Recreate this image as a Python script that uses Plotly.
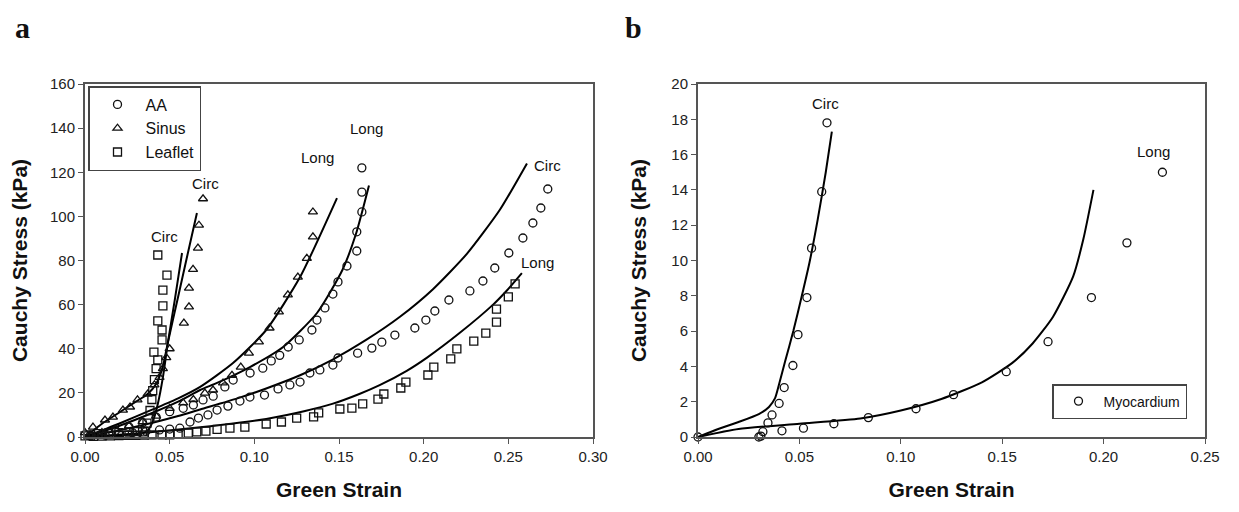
import plotly.graph_objects as go

# ---- panel a : aortic tissue (strain, stress kPa) ----
aa_long_x = [0.003, 0.010, 0.018, 0.026, 0.034, 0.042, 0.050, 0.058, 0.064, 0.0697, 0.0757, 0.0826, 0.0875, 0.0975, 0.105,
             0.110, 0.115, 0.120, 0.1265, 0.134, 0.137, 0.1417, 0.1464, 0.1494, 0.1547, 0.1605, 0.1605, 0.1635, 0.1635, 0.1635]
aa_long_y = [0.5, 1.5, 3, 4.5, 6.5, 9, 11.5, 13, 14.5, 16.8, 18.5, 22.7, 25.8, 29, 31.2,
             34.5, 37, 40.8, 44, 48.5, 53, 58.5, 64.8, 70.3, 77.5, 84.3, 93, 102, 111, 122]

aa_circ_x = [0.004, 0.012, 0.020, 0.028, 0.036, 0.044, 0.050, 0.056, 0.062, 0.067, 0.0726, 0.078, 0.0844, 0.0915, 0.0974,
             0.106, 0.114, 0.121, 0.127, 0.1328, 0.1387, 0.1464, 0.1494, 0.161, 0.1694, 0.1753, 0.183, 0.1948, 0.2013,
             0.2066, 0.2149, 0.2273, 0.235, 0.242, 0.2503, 0.2586, 0.2645, 0.2692, 0.2733]
aa_circ_y = [0.3, 0.8, 1.3, 2, 2.6, 3.2, 3.6, 4, 6.8, 8.6, 10, 12.2, 14, 16.3, 18.1,
             19, 21.8, 23.6, 24.9, 29, 30.4, 32.6, 35.8, 38, 40.3, 43, 46.2, 49.4, 53,
             57.1, 62.1, 66.2, 70.7, 76.6, 83.4, 90.2, 97, 103.8, 112.4]

sinus_circ_x = [0.0, 0.0047, 0.0118, 0.0165, 0.0224, 0.0266, 0.031, 0.037, 0.041, 0.044, 0.046, 0.048, 0.050,
                0.0584, 0.0614, 0.0614, 0.0638, 0.0667, 0.0673, 0.0697]
sinus_circ_y = [2, 4.5, 7.7, 9, 12.2, 13.6, 16.8, 19.5, 23.6, 27, 31, 36, 40,
                51.6, 59, 67.5, 76, 85.6, 96, 108]

sinus_long_x = [0.003, 0.010, 0.018, 0.026, 0.034, 0.042, 0.050, 0.058, 0.064, 0.0708, 0.0756, 0.0815, 0.0868, 0.092,
                0.0968, 0.1027, 0.109, 0.1145, 0.1198, 0.1257, 0.131, 0.1346, 0.1346]
sinus_long_y = [1, 2, 3.5, 5, 7, 9.5, 13, 15.5, 17, 19.9, 21.3, 24.5, 28, 31.7,
                38, 43.1, 49.4, 56.7, 64.4, 72.5, 81, 90.7, 102]

leaf_circ_x = [0.002, 0.008, 0.014, 0.020, 0.026, 0.031, 0.034, 0.0366, 0.0384, 0.0395, 0.040, 0.041, 0.042, 0.043,
               0.0407, 0.0455, 0.0455, 0.043, 0.046, 0.046, 0.0484, 0.043]
leaf_circ_y = [1, 1.5, 1.8, 2, 2.2, 2.5, 2.3, 6.3, 12, 17, 21, 26, 31, 35,
               38.5, 44, 48.5, 52.6, 59.4, 66.6, 73.4, 82.5]

leaf_long_x = [0.0, 0.005, 0.010, 0.015, 0.020, 0.025, 0.030, 0.035, 0.0396, 0.0455, 0.050, 0.055, 0.061, 0.066,
               0.0714, 0.078, 0.0856, 0.0944, 0.107, 0.116, 0.125, 0.135, 0.138, 0.1505, 0.1576, 0.164, 0.173,
               0.1765, 0.1865, 0.1895, 0.2025, 0.206, 0.216, 0.2196, 0.2296, 0.2367, 0.243, 0.243, 0.250, 0.254]
leaf_long_y = [0.5, 0.3, 0.4, 0.5, 0.6, 0.7, 0.8, 0.9, 1, 1, 1, 1.2, 1.8, 2.3,
               2.7, 3.5, 4, 4.5, 5.9, 6.8, 8.6, 9.1, 10.9, 12.7, 13.1, 15, 17.2,
               19.5, 22.2, 24.9, 28.1, 31.7, 35.4, 39.9, 43.5, 47.1, 52.1, 58, 63.5, 69.4]

# fitted model curves
fit_aa_long_x = [0, 0.02, 0.04, 0.055, 0.068, 0.078, 0.0974, 0.117, 0.137, 0.152, 0.160, 0.1677]
fit_aa_long_y = [0, 5, 11, 16, 21.3, 24.5, 31.7, 40.8, 56.2, 75.7, 92, 114]
fit_aa_circ_x = [0, 0.02, 0.04, 0.055, 0.068, 0.09, 0.107, 0.127, 0.146, 0.166, 0.186, 0.2055, 0.2255, 0.245, 0.261]
fit_aa_circ_y = [0, 3, 6.5, 9.5, 12.5, 17.5, 22, 28, 35, 44, 54.5, 67, 83, 103, 124]
fit_sinus_long_x = [0, 0.02, 0.04, 0.055, 0.068, 0.0874, 0.107, 0.127, 0.1488]
fit_sinus_long_y = [0, 6, 12.5, 17.5, 22.7, 33.5, 48.5, 72.5, 108.3]
fit_sinus_circ_x = [0, 0.01, 0.02, 0.03, 0.037, 0.042, 0.046, 0.049, 0.055, 0.060, 0.0661]
fit_sinus_circ_y = [0, 6, 11, 16, 19.5, 24, 32, 43, 63.6, 80.8, 101.5]
fit_leaf_circ_x = [0, 0.02, 0.033, 0.037, 0.040, 0.043, 0.046, 0.049, 0.053, 0.0573]
fit_leaf_circ_y = [0, 0.8, 1.5, 3, 7, 15, 27, 43, 62, 83.4]
fit_leaf_long_x = [0, 0.02, 0.04, 0.068, 0.08, 0.107, 0.13, 0.146, 0.162, 0.174, 0.19, 0.202, 0.221, 0.241, 0.249, 0.258]
fit_leaf_long_y = [0, 1, 2.3, 4.4, 5.4, 8.2, 11.8, 15, 19.5, 23.5, 30, 36, 47, 60, 66.3, 74.3]

# ---- panel b : myocardium ----
myo_circ_x = [0.0, 0.031, 0.032, 0.0345, 0.0365, 0.040, 0.0425, 0.0468, 0.0493, 0.0537, 0.056, 0.061, 0.0636]
myo_circ_y = [0.0, 0.05, 0.3, 0.8, 1.25, 1.9, 2.8, 4.05, 5.8, 7.9, 10.7, 13.9, 17.8]
myo_long_x = [0.030, 0.0414, 0.052, 0.067, 0.084, 0.1075, 0.126, 0.152, 0.1726, 0.194, 0.2115, 0.229]
myo_long_y = [0.0, 0.35, 0.5, 0.75, 1.1, 1.6, 2.4, 3.7, 5.4, 7.9, 11.0, 15.0]

fit_myo_circ_x = [0, 0.01, 0.02, 0.03, 0.035, 0.038, 0.040, 0.043, 0.047, 0.051, 0.055, 0.059, 0.063, 0.066]
fit_myo_circ_y = [0, 0.45, 0.85, 1.3, 1.7, 2.2, 3.0, 4.3, 6.0, 7.9, 9.9, 12.3, 15.0, 17.3]
fit_myo_long_x = [0, 0.02, 0.05, 0.08, 0.10, 0.12, 0.14, 0.155, 0.165, 0.175, 0.185, 0.19, 0.195]
fit_myo_long_y = [0, 0.45, 0.75, 1.05, 1.5, 2.15, 3.1, 4.2, 5.3, 6.8, 9.1, 11.2, 14.0]

FONT = "Liberation Sans, Arial, sans-serif"
W, H, OFF = 1239, 512, 8   # page body adds an 8px margin


def px_x(p):
    return (p - OFF) / W


def px_y(p):
    return 1 - (p - OFF) / H


fig = go.Figure()


def pts(x, y, sym, name, xa, ya, show, legend="legend"):
    fig.add_trace(go.Scatter(x=x, y=y, mode="markers", name=name, xaxis=xa, yaxis=ya,
                             showlegend=show, legend=legend, cliponaxis=False,
                             marker=dict(symbol=sym, size=8, color="#111",
                                         line=dict(color="#111", width=1.3))))


def fit(x, y, xa, ya):
    fig.add_trace(go.Scatter(x=x, y=y, mode="lines", xaxis=xa, yaxis=ya, showlegend=False,
                             line=dict(color="black", width=2, shape="spline", smoothing=0.6)))


for fx, fy in [(fit_aa_long_x, fit_aa_long_y), (fit_aa_circ_x, fit_aa_circ_y),
               (fit_sinus_long_x, fit_sinus_long_y), (fit_sinus_circ_x, fit_sinus_circ_y),
               (fit_leaf_circ_x, fit_leaf_circ_y), (fit_leaf_long_x, fit_leaf_long_y)]:
    fit(fx, fy, "x", "y")

pts(aa_long_x, aa_long_y, "circle-open", "AA", "x", "y", True)
pts(aa_circ_x, aa_circ_y, "circle-open", "AA", "x", "y", False)
pts(sinus_long_x, sinus_long_y, "triangle-up-open", "Sinus", "x", "y", True)
pts(sinus_circ_x, sinus_circ_y, "triangle-up-open", "Sinus", "x", "y", False)
pts(leaf_long_x, leaf_long_y, "square-open", "Leaflet", "x", "y", True)
pts(leaf_circ_x, leaf_circ_y, "square-open", "Leaflet", "x", "y", False)

fit(fit_myo_circ_x, fit_myo_circ_y, "x2", "y2")
fit(fit_myo_long_x, fit_myo_long_y, "x2", "y2")
pts(myo_circ_x, myo_circ_y, "circle-open", "Myocardium", "x2", "y2", True, "legend2")
pts(myo_long_x, myo_long_y, "circle-open", "Myocardium", "x2", "y2", False, "legend2")

axis_common = dict(showline=True, linecolor="#555", linewidth=2, mirror=True, ticks="outside",
                   ticklen=5, tickcolor="#555", showgrid=False, zeroline=False, automargin=False,
                   tickfont=dict(family=FONT, size=15, color="#222"))
title_font = dict(family=FONT, size=21, color="#111", weight="bold")
ydom = [px_y(437), px_y(84)]

fig.update_layout(
    width=W, height=H, margin=dict(l=0, r=0, t=0, b=0, autoexpand=False),
    plot_bgcolor="white", paper_bgcolor="white",
    xaxis=dict(domain=[px_x(85), px_x(593)], range=[0, 0.30], dtick=0.05, tickformat=".2f",
               title=dict(text="Green Strain", font=title_font, standoff=18), **axis_common),
    yaxis=dict(domain=ydom, range=[0, 160], dtick=20,
               title=dict(text="Cauchy Stress (kPa)", font=title_font, standoff=17), **axis_common),
    xaxis2=dict(domain=[px_x(698), px_x(1205)], range=[0, 0.25], dtick=0.05, tickformat=".2f",
                anchor="y2",
                title=dict(text="Green Strain", font=title_font, standoff=18), **axis_common),
    yaxis2=dict(domain=ydom, range=[0, 20], dtick=2, anchor="x2",
                title=dict(text="Cauchy Stress (kPa)", font=title_font, standoff=19), **axis_common),
    legend=dict(x=px_x(88), y=px_y(86), xanchor="left", yanchor="top",
                bordercolor="#444", borderwidth=1.5, bgcolor="white",
                font=dict(family=FONT, size=16, color="#111"), tracegroupgap=0, itemwidth=46),
    legend2=dict(x=px_x(1052), y=px_y(384), xanchor="left", yanchor="top",
                 bordercolor="#444", borderwidth=1.5, bgcolor="white",
                 font=dict(family=FONT, size=14, color="#111"), itemwidth=40),
)

labels_a = [(0.047, 91, "Circ"), (0.071, 115, "Circ"), (0.1375, 126.5, "Long"),
            (0.1665, 140, "Long"), (0.273, 123, "Circ"), (0.267, 79, "Long")]
for lx, ly, txt in labels_a:
    fig.add_annotation(x=lx, y=ly, xref="x", yref="y", text=txt, showarrow=False,
                       font=dict(family=FONT, size=15, color="#111"))

labels_b = [(0.063, 18.9, "Circ"), (0.2244, 16.2, "Long")]
for lx, ly, txt in labels_b:
    fig.add_annotation(x=lx, y=ly, xref="x2", yref="y2", text=txt, showarrow=False,
                       font=dict(family=FONT, size=15, color="#111"))

for px, txt in [(22, "a"), (633, "b")]:
    fig.add_annotation(x=px_x(px), y=px_y(27), xref="paper", yref="paper", text=txt, showarrow=False,
                       xanchor="center", yanchor="middle",
                       font=dict(family="Liberation Serif, Times New Roman, serif", size=30,
                                 color="#111", weight="bold"))

fig.write_html("out.html")
